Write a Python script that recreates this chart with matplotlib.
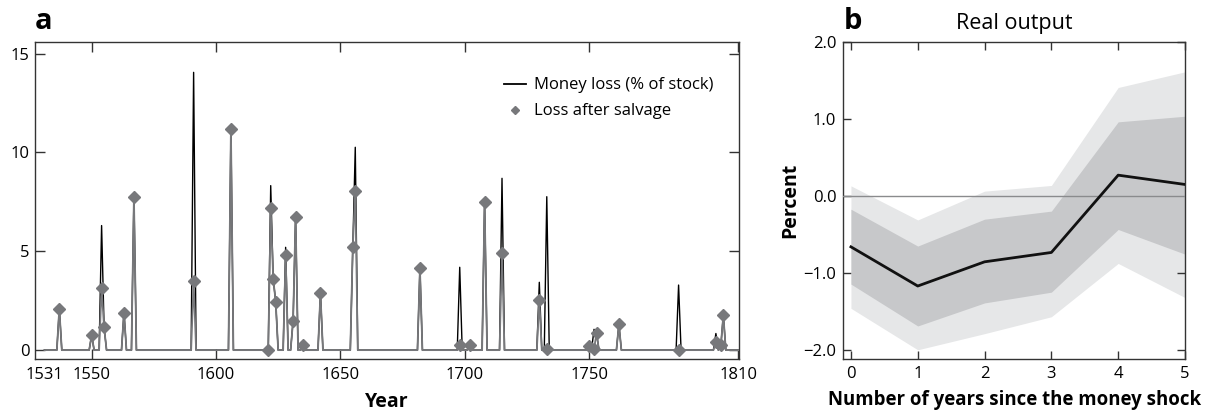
import numpy as np
import matplotlib
matplotlib.use("Agg")
import matplotlib.pyplot as plt
from matplotlib.lines import Line2D

plt.rcParams['font.family'] = ['Open Sans', 'DejaVu Sans']
plt.rcParams['axes.unicode_minus'] = True

# ---------------- Panel a data ----------------
year_start = 1531
year_end = 1810
event_years = [1537, 1550, 1554, 1555, 1563, 1567, 1591, 1606, 1621, 1622, 1623, 1624,
               1628, 1631, 1632, 1635, 1642, 1655, 1656, 1682, 1698, 1702, 1708, 1715,
               1730, 1733, 1750, 1752, 1753, 1762, 1786, 1801, 1803, 1804]
money_loss = [2.1, 0.75, 6.3, 1.15, 1.9, 7.76, 14.05, 11.17, 0.0, 8.32, 3.61, 2.45,
              5.2, 1.49, 6.73, 0.25, 2.87, 5.23, 10.26, 4.14, 4.19, 0.24, 7.49, 8.69,
              3.43, 7.76, 0.22, 1.05, 0.85, 1.30, 3.29, 0.84, 0.25, 1.77]
salvage_loss = [2.1, 0.75, 3.12, 1.15, 1.9, 7.76, 3.48, 11.17, 0.0, 7.21, 3.61, 2.45,
                4.81, 1.49, 6.73, 0.25, 2.87, 5.23, 8.07, 4.14, 0.24, 0.24, 7.49, 4.89,
                2.53, 0.07, 0.22, 0.05, 0.85, 1.30, 0.03, 0.42, 0.25, 1.77]
xticks_a = [1531, 1550, 1600, 1650, 1700, 1750, 1810]
yticks_a = [0, 5, 10, 15]

# ---------------- Panel b data ----------------
horizon = [0, 1, 2, 3, 4, 5]
irf_mean = [-0.66, -1.17, -0.855, -0.733, 0.273, 0.152]
inner_upper = [-0.17, -0.65, -0.30, -0.195, 0.967, 1.04]
inner_lower = [-1.145, -1.69, -1.39, -1.25, -0.434, -0.755]
outer_upper = [0.134, -0.31, 0.065, 0.139, 1.414, 1.618]
outer_lower = [-1.46, -2.0, -1.79, -1.57, -0.876, -1.32]
yticks_b = [-2.0, -1.0, 0.0, 1.0, 2.0]

# annual series (zero in years without recorded losses)
years = np.arange(year_start, year_end + 1)
money_series = np.zeros(len(years))
salvage_series = np.zeros(len(years))
for y, m, s in zip(event_years, money_loss, salvage_loss):
    money_series[y - year_start] = m
    salvage_series[y - year_start] = s

fig = plt.figure(figsize=(12.05, 4.11), dpi=100)
spine_col = '#333333'
grey = '#77787b'

# ---------------- Panel a ----------------
ax = fig.add_axes([0.029, 0.1265, 0.5845, 0.772])
ax.plot(years, money_series, color='black', lw=1.0, zorder=2)
ax.plot(years, salvage_series, color=grey, lw=1.3, zorder=3)
ax.plot(event_years, salvage_loss, linestyle='none', marker='D', ms=5.8,
        color=grey, mec=grey, zorder=4)
ax.set_xlim(1527.2, 1810.4)
ax.set_ylim(-0.45, 15.6)
ax.set_xticks(xticks_a)
ax.set_xticklabels([str(t) for t in xticks_a])
ax.set_yticks(yticks_a)
ax.tick_params(axis='both', direction='in', length=7, width=1, color=spine_col,
               labelsize=12, top=True, right=True, pad=6)
ax.tick_params(axis='y', labelright=False, pad=4)
t0 = ax.xaxis.get_major_ticks()[0]
t0.tick1line.set_visible(False)
t0.tick2line.set_visible(False)
for s in ax.spines.values():
    s.set_color(spine_col)
    s.set_linewidth(1.0)
ax.set_xlabel('Year', fontsize=14, fontweight='bold', labelpad=6)
handles = [Line2D([0], [0], color='black', lw=1.3),
           Line2D([0], [0], linestyle='none', marker='D', ms=4.5, color=grey)]
ax.legend(handles, ['Money loss (% of stock)', 'Loss after salvage'],
          loc='upper right', bbox_to_anchor=(0.985, 0.935), frameon=False,
          fontsize=12, handlelength=1.3, handletextpad=0.5, labelspacing=0.6)
fig.text(0.029, 0.948, 'a', fontsize=21, fontweight='bold', ha='left', va='center')

# ---------------- Panel b ----------------
bx = fig.add_axes([0.6998, 0.1265, 0.2836, 0.772])
bx.fill_between(horizon, outer_lower, outer_upper, color='#e6e7e8', lw=0, zorder=1)
bx.fill_between(horizon, inner_lower, inner_upper, color='#c7c8ca', lw=0, zorder=2)
bx.axhline(0, color='#8a8b8d', lw=1.0, zorder=3)
bx.plot(horizon, irf_mean, color='#111111', lw=2.0, zorder=4)
bx.set_xlim(-0.115, 5.0)
bx.set_ylim(-2.12, 2.01)
bx.set_xticks(horizon)
bx.set_yticks(yticks_b)
bx.set_yticklabels(['\u22122.0', '\u22121.0', '0.0', '1.0', '2.0'])
bx.tick_params(axis='both', direction='in', length=6, width=1, color=spine_col,
               labelsize=12, top=True, right=True, pad=5)
for s in bx.spines.values():
    s.set_color(spine_col)
    s.set_linewidth(1.0)
bx.set_xlabel('Number of years since the money shock', fontsize=13.4,
              fontweight='bold', labelpad=6)
bx.set_ylabel('Percent', fontsize=14, fontweight='bold', labelpad=2)
bx.set_title('Real output', fontsize=15.5, pad=9)
fig.text(0.7005, 0.948, 'b', fontsize=21, fontweight='bold', ha='left', va='center')

fig.savefig('out.png', dpi=100)
